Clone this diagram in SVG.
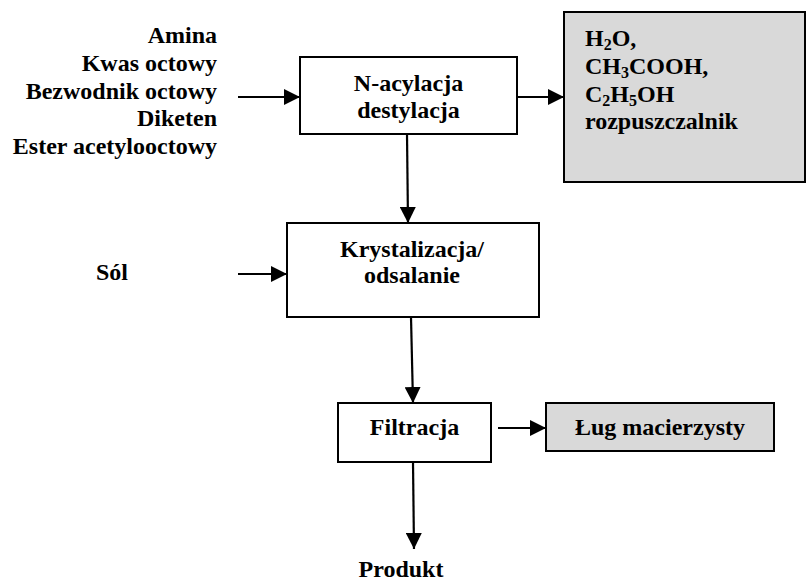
<svg xmlns="http://www.w3.org/2000/svg" width="806" height="583" viewBox="0 0 806 583">
  <defs>
    <marker id="arrow" markerUnits="userSpaceOnUse" markerWidth="16" markerHeight="16" refX="16" refY="8" orient="auto">
      <path d="M0,0 L16,8 L0,16 Z" fill="#000"/>
    </marker>
    <style>
      text { font-family: "Liberation Serif", "Times New Roman", serif; font-weight: bold; font-size: 24px; fill: #000; }
      .box { fill: #fff; stroke: #000; stroke-width: 2; }
      .grey { fill: #d9d9d9; stroke: #000; stroke-width: 2; }
      .link { fill: none; stroke: #000; stroke-width: 2.2; marker-end: url(#arrow); }
      .mid { text-anchor: middle; }
      .end { text-anchor: end; }
      .sub { font-size: 16px; }
    </style>
  </defs>
  <rect width="806" height="583" fill="#fff"/>

  <!-- raw material inputs -->
  <g id="inputs">
    <text class="end" x="217" y="43">Amina</text>
    <text class="end" x="217" y="71">Kwas octowy</text>
    <text class="end" x="217" y="98.5">Bezwodnik octowy</text>
    <text class="end" x="217" y="126">Diketen</text>
    <text class="end" x="217" y="154">Ester acetylooctowy</text>
  </g>

  <g id="acylation">
    <rect class="box" x="300" y="57" width="217" height="77"/>
    <text class="mid" x="408.5" y="91">N-acylacja</text>
    <text class="mid" x="408.5" y="118">destylacja</text>
  </g>

  <g id="byproducts">
    <rect class="grey" x="564" y="12" width="241" height="170"/>
    <text x="585" y="46">H<tspan class="sub" dy="4">2</tspan><tspan dy="-4">O,</tspan></text>
    <text x="585" y="74">CH<tspan class="sub" dy="4">3</tspan><tspan dy="-4">COOH,</tspan></text>
    <text x="585" y="101.5">C<tspan class="sub" dy="4">2</tspan><tspan dy="-4">H</tspan><tspan class="sub" dy="4">5</tspan><tspan dy="-4">OH</tspan></text>
    <text x="585" y="129">rozpuszczalnik</text>
  </g>

  <g id="salt">
    <text x="96" y="280">Sól</text>
  </g>

  <g id="crystallization">
    <rect class="box" x="287" y="223" width="252" height="94"/>
    <text class="mid" x="412" y="257">Krystalizacja/</text>
    <text class="mid" x="412" y="283">odsalanie</text>
  </g>

  <g id="filtration">
    <rect class="box" x="338" y="403" width="153" height="59"/>
    <text class="mid" x="414.5" y="435">Filtracja</text>
  </g>

  <g id="mother-liquor">
    <rect class="grey" x="546" y="403" width="228" height="48"/>
    <text class="mid" x="660" y="435">Ług macierzysty</text>
  </g>

  <g id="product">
    <text class="mid" x="401" y="577">Produkt</text>
  </g>

  <g id="connectors">
    <line class="link" x1="238" y1="97" x2="300" y2="97"/>
    <line class="link" x1="517" y1="97" x2="564" y2="97"/>
    <line class="link" x1="407" y1="134" x2="408" y2="223"/>
    <line class="link" x1="238" y1="274" x2="287" y2="274"/>
    <line class="link" x1="411" y1="317" x2="413" y2="403"/>
    <line class="link" x1="498" y1="428" x2="546" y2="428"/>
    <line class="link" x1="413" y1="462" x2="414" y2="549"/>
  </g>
</svg>
